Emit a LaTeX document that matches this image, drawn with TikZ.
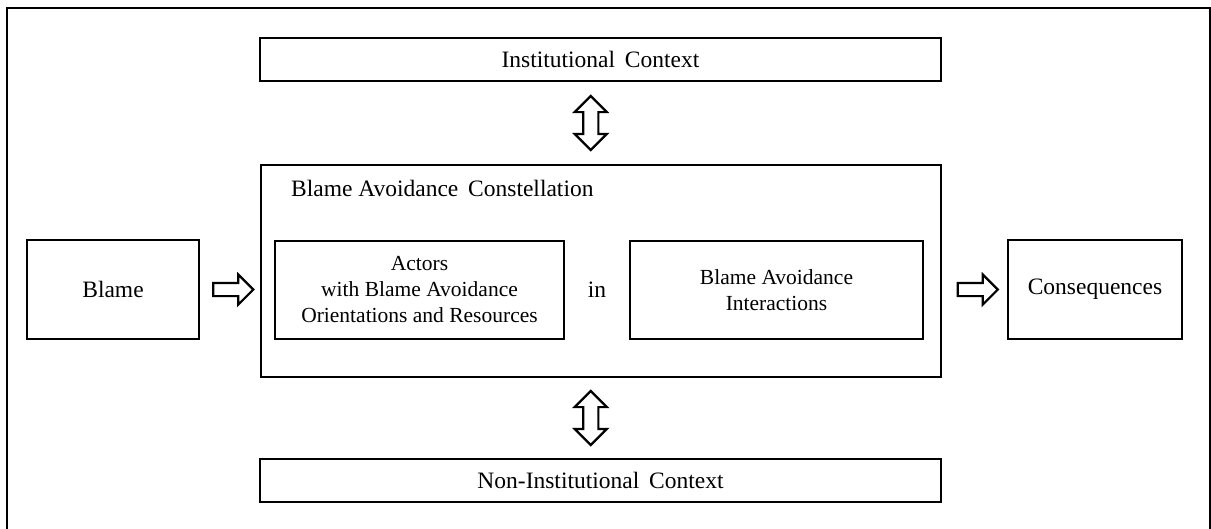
\documentclass[tikz,border=0pt]{standalone}
\usepackage{fontspec}
\setmainfont{Liberation Serif}
\usetikzlibrary{shapes.arrows, calc}

\begin{document}
\begin{tikzpicture}[x=1pt, y=-1pt, font=\fontsize{23.5}{28}\selectfont,
    box/.style={draw, line width=2.8pt, align=center, inner sep=0pt},
    innerbox/.style={box, minimum height=98, font=\fontsize{21.5}{26}\selectfont},
    harrow/.style={single arrow, draw, line width=2.2pt, minimum height=40pt, minimum width=28pt,
      inner xsep=0pt, inner ysep=5.5pt, single arrow head extend=8.5pt},
    varrow/.style={double arrow, draw, line width=2.2pt, rotate=90, minimum height=54pt, minimum width=30pt,
      inner xsep=0pt, inner ysep=6.5pt, double arrow head extend=8.5pt}]

    % 1. page and outer frame
    \useasboundingbox (0,0) rectangle (1211,528);
    \clip (0,0) rectangle (1211,528);
    \draw[line width=2.8pt] (7,8) rectangle (1210,560);

    % 2. context boxes
    \node[box, minimum width=681, minimum height=43] (inst) at (600.5,59.5) {Institutional\, Context};
    \node[box, minimum width=681, minimum height=43] (noninst) at (600.5,480.5) {Non-Institutional\, Context};

    % 3. constellation with its two inner boxes
    \node[box, minimum width=680, minimum height=212] (bac) at (601,271) {};
    \node[anchor=west] (bactitle) at ($(bac.north west)+(28,25)$) {Blame Avoidance\, Constellation};
    \node[innerbox, minimum width=289] (actors) at (419.5,290)
        {Actors\\with Blame Avoidance\\Orientations and Resources};
    \node[innerbox, minimum width=293] (inter) at (776.5,290)
        {Blame Avoidance\\Interactions};
    \node (inword) at ($(actors.east)!0.5!(inter.west)$) {in};

    % 4. input and output
    \node[box, minimum width=172, minimum height=99] (blame) at (113,289.5) {Blame};
    \node[box, minimum width=174, minimum height=99] (cons) at (1095,289.5) {Consequences};

    % 5. block arrows
    \node[harrow] (toBac) at ($(blame.east)!0.5!(bac.west |- blame.east)$) {};
    \node[harrow] (toCons) at ($(bac.east |- cons.west)!0.5!(cons.west)$) {};
    \node[varrow] (instLink) at ($(inst.south)!0.5!(bac.north)+(-10,0)$) {};
    \node[varrow] (noninstLink) at ($(bac.south)!0.5!(noninst.north)+(-10,0)$) {};

\end{tikzpicture}
\end{document}
